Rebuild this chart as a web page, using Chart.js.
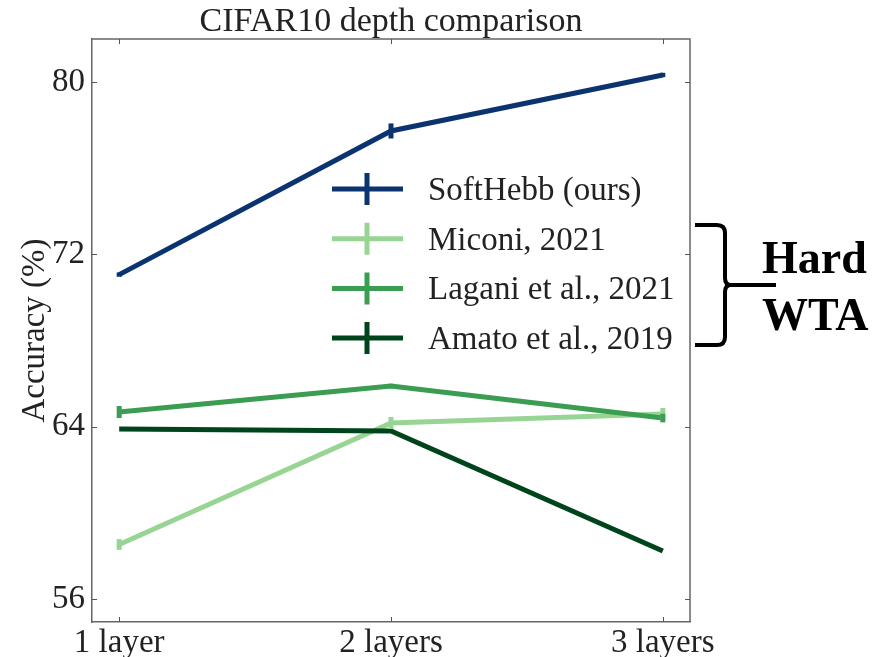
<!DOCTYPE html>
<html>
<head>
<meta charset="utf-8">
<script src="https://cdn.jsdelivr.net/npm/chart.js@4.4.1/dist/chart.umd.min.js"></script>
<style>
  html, body { margin: 0; padding: 0; background: #fff; }
  #wrap { width: 874px; height: 657px; }
</style>
</head>
<body>
<div id="wrap"><canvas id="grafico-profundidade" width="874" height="657"></canvas></div>
<script>
// depth comparison on CIFAR10
const categorias = ['1 layer', '2 layers', '3 layers'];
const yTicks = [56, 64, 72, 80];

const softHebb = [71.06, 77.73, 80.33];
const softHebbErr = [0.1, 0.35, 0.1];
const miconi = [58.53, 64.17, 64.59];
const miconiErr = [0.25, 0.28, 0.28];
const lagani = [64.68, 65.89, 64.40];
const laganiErr = [0.28, 0.1, 0.2];
const amato = [63.89, 63.80, 58.23];
const amatoErr = [0, 0, 0];

const nomes = ['SoftHebb (ours)', 'Miconi, 2021', 'Lagani et al., 2021', 'Amato et al., 2019'];
const cores = ['#0a3370', '#98d594', '#3a9d52', '#00441b'];

const fonte = '"Liberation Serif", "Times New Roman", serif';

function pontos(valores) {
    return valores.map(function (v, i) { return { x: i, y: v }; });
}

function serie(i, valores, erros) {
    return {
        label: nomes[i],
        data: pontos(valores),
        erros: erros,
        borderColor: cores[i],
        backgroundColor: cores[i],
        borderWidth: 5,
        pointRadius: 0,
        tension: 0,
        borderCapStyle: 'butt',
        order: 4 - i
    };
}

// frame, inward ticks, error bars, title, legend and the bracket note
const extras = {
    id: 'extras',
    afterDatasetsDraw(chart) {
        const ctx = chart.ctx;
        const sx = chart.scales.x, sy = chart.scales.y;
        ctx.save();
        chart.data.datasets.forEach(function (ds) {
            ctx.strokeStyle = ds.borderColor;
            ctx.lineWidth = 5;
            ds.data.forEach(function (p, i) {
                const e = ds.erros[i];
                if (!e) return;
                const px = sx.getPixelForValue(p.x);
                ctx.beginPath();
                ctx.moveTo(px, sy.getPixelForValue(p.y - e));
                ctx.lineTo(px, sy.getPixelForValue(p.y + e));
                ctx.stroke();
            });
        });
        ctx.restore();
    },
    afterDraw(chart) {
        const ctx = chart.ctx;
        const a = chart.chartArea;
        const sx = chart.scales.x, sy = chart.scales.y;
        ctx.save();

        // top and right edges of the frame
        ctx.strokeStyle = '#666';
        ctx.lineWidth = 1.5;
        ctx.beginPath();
        ctx.moveTo(a.left, a.top);
        ctx.lineTo(a.right, a.top);
        ctx.lineTo(a.right, a.bottom);
        ctx.stroke();

        // ticks pointing into the plot on all four sides
        ctx.lineWidth = 1;
        ctx.strokeStyle = '#555';
        ctx.beginPath();
        sx.ticks.forEach(function (t) {
            const px = Math.round(sx.getPixelForValue(t.value)) + 0.5;
            ctx.moveTo(px, a.bottom); ctx.lineTo(px, a.bottom - 5);
            ctx.moveTo(px, a.top); ctx.lineTo(px, a.top + 5);
        });
        sy.ticks.forEach(function (t) {
            const py = Math.round(sy.getPixelForValue(t.value)) + 0.5;
            ctx.moveTo(a.left, py); ctx.lineTo(a.left + 5, py);
            ctx.moveTo(a.right, py); ctx.lineTo(a.right - 5, py);
        });
        ctx.stroke();

        // title
        ctx.fillStyle = '#222';
        ctx.font = '34px ' + fonte;
        ctx.textAlign = 'center';
        ctx.textBaseline = 'alphabetic';
        ctx.fillText('CIFAR10 depth comparison', (a.left + a.right) / 2, 31);

        // legend
        const lx = a.left + 240, ly = a.top + 150, passo = 49.7;
        ctx.textAlign = 'left';
        ctx.font = '33px ' + fonte;
        chart.data.datasets.forEach(function (ds, i) {
            const y = ly + i * passo;
            ctx.strokeStyle = ds.borderColor;
            ctx.lineWidth = 5;
            ctx.beginPath();
            ctx.moveTo(lx, y); ctx.lineTo(lx + 71, y);
            ctx.moveTo(lx + 35, y - 16); ctx.lineTo(lx + 35, y + 16);
            ctx.stroke();
            ctx.fillStyle = '#222';
            ctx.fillText(ds.label, lx + 96, y + 11);
        });

        // bracket grouping the hard WTA methods
        const bx = a.right + 35;
        ctx.strokeStyle = '#000';
        ctx.lineWidth = 4;
        ctx.lineJoin = 'round';
        ctx.beginPath();
        ctx.moveTo(a.right + 5, 225);
        ctx.lineTo(bx - 8, 225);
        ctx.quadraticCurveTo(bx, 225, bx, 233);
        ctx.lineTo(bx, 278);
        ctx.quadraticCurveTo(bx, 285, bx + 6, 285);
        ctx.quadraticCurveTo(bx, 285, bx, 292);
        ctx.lineTo(bx, 337);
        ctx.quadraticCurveTo(bx, 345, bx - 8, 345);
        ctx.lineTo(a.right + 5, 345);
        ctx.moveTo(bx, 285);
        ctx.lineTo(a.right + 86, 285);
        ctx.stroke();

        ctx.fillStyle = '#000';
        ctx.font = 'bold 46px ' + fonte;
        ctx.fillText('Hard', a.right + 72, 273);
        ctx.fillText('WTA', a.right + 72, 330);
        ctx.restore();
    }
};

const ctxGrafico = document.getElementById('grafico-profundidade').getContext('2d');

const grafico = new Chart(ctxGrafico, {
    type: 'line',
    data: {
        datasets: [
            serie(0, softHebb, softHebbErr),
            serie(1, miconi, miconiErr),
            serie(2, lagani, laganiErr),
            serie(3, amato, amatoErr)
        ]
    },
    options: {
        responsive: false,
        animation: false,
        layout: { padding: { top: 39, right: 184, left: 0, bottom: 0 } },
        plugins: {
            legend: { display: false },
            tooltip: { enabled: false }
        },
        scales: {
            x: {
                type: 'linear',
                min: -0.1,
                max: 2.1,
                afterFit: function (s) { s.height = 35; },
                afterBuildTicks: function (s) {
                    s.ticks = categorias.map(function (c, i) { return { value: i }; });
                },
                grid: { display: false, drawTicks: false },
                border: { display: true, color: '#666', width: 1.5 },
                ticks: {
                    color: '#222',
                    padding: 2,
                    maxRotation: 0,
                    autoSkip: false,
                    font: { family: fonte, size: 33 },
                    callback: function (v) { return categorias[v]; }
                }
            },
            y: {
                min: 54.93,
                max: 82.0,
                afterFit: function (s) { s.width = 92; },
                afterBuildTicks: function (s) {
                    s.ticks = yTicks.map(function (v) { return { value: v }; });
                },
                grid: { display: false, drawTicks: false },
                border: { display: true, color: '#666', width: 1.5 },
                title: {
                    display: true,
                    text: 'Accuracy (%)',
                    color: '#222',
                    padding: { top: 16, bottom: 0 },
                    font: { family: fonte, size: 33 }
                },
                ticks: {
                    color: '#222',
                    padding: 7,
                    font: { family: fonte, size: 33 }
                }
            }
        }
    },
    plugins: [extras]
});
</script>
</body>
</html>
